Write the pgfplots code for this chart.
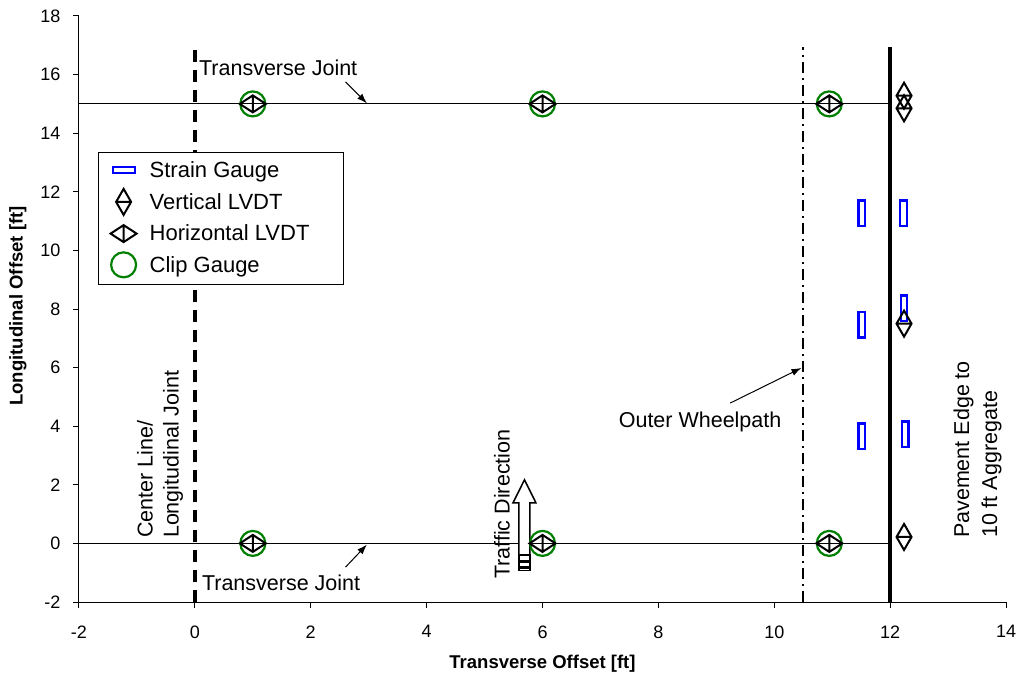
\documentclass[border=0pt]{standalone}
\usepackage{pgfplots}
\pgfplotsset{compat=1.18}
\usepackage{fontspec}
\setmainfont{Liberation Sans}
\usetikzlibrary{arrows.meta}

\definecolor{sgblue}{RGB}{0,0,255}
\definecolor{cggreen}{RGB}{0,128,0}

\pgfdeclareplotmark{vlvdt}{%
  \pgfpathmoveto{\pgfqpoint{0pt}{13pt}}%
  \pgfpathlineto{\pgfqpoint{7.5pt}{0pt}}%
  \pgfpathlineto{\pgfqpoint{0pt}{-13pt}}%
  \pgfpathlineto{\pgfqpoint{-7.5pt}{0pt}}%
  \pgfpathclose
  \pgfpathmoveto{\pgfqpoint{-7.5pt}{0pt}}%
  \pgfpathlineto{\pgfqpoint{7.5pt}{0pt}}%
  \pgfusepathqstroke}
\pgfdeclareplotmark{hlvdt}{%
  \pgfpathmoveto{\pgfqpoint{13pt}{0pt}}%
  \pgfpathlineto{\pgfqpoint{0pt}{8.5pt}}%
  \pgfpathlineto{\pgfqpoint{-13pt}{0pt}}%
  \pgfpathlineto{\pgfqpoint{0pt}{-8.5pt}}%
  \pgfpathclose
  \pgfpathmoveto{\pgfqpoint{0pt}{-8.5pt}}%
  \pgfpathlineto{\pgfqpoint{0pt}{8.5pt}}%
  \pgfusepathqstroke}
\pgfdeclareplotmark{sgauge}{%
  \pgfpathrectangle{\pgfqpoint{-3.3pt}{-12.9pt}}{\pgfqpoint{6.6pt}{25.8pt}}%
  \pgfusepathqstroke}
\pgfdeclareplotmark{sgaugeh}{%
  \pgfpathrectangle{\pgfqpoint{-11pt}{-3pt}}{\pgfqpoint{22pt}{6pt}}%
  \pgfusepathqstroke}

\newcommand{\annfont}{\fontsize{21.5}{26}\selectfont}

\begin{document}
\begin{tikzpicture}
\path[use as bounding box] (-79pt,-79pt) rectangle (945pt,602pt);
\begin{axis}[
  at={(0pt,0pt)}, anchor=south west,
  scale only axis, width=927pt, height=586pt,
  xmin=-2, xmax=14, ymin=-2, ymax=18,
  xtick={-2,0,...,14}, ytick={-2,0,...,18},
  axis x line*=bottom, axis y line*=left,
  axis line style={line width=1pt},
  tick align=outside, major tick length=6pt,
  tick style={line width=1pt, black},
  /pgf/number format/assume math mode=true,
  ticklabel style={font=\fontsize{18}{20}\selectfont},
  xticklabel style={yshift=-14pt},
  yticklabel style={xshift=-9pt},
  xlabel={\textbf{Transverse Offset [ft]}},
  ylabel={\textbf{Longitudinal Offset [ft]}},
  label style={font=\fontsize{18.5}{21}\selectfont},
  xlabel style={at={(axis description cs:0.5,0)}, anchor=center, yshift=-62pt},
  ylabel style={at={(axis description cs:0,0.5)}, anchor=center, rotate=0, yshift=61pt, xshift=3pt},
  clip=false,
  legend style={at={(axis cs:-1.672,13.36)}, anchor=north west,
    draw=black, line width=1pt, font=\fontsize{22}{25}\selectfont,
    row sep=8pt, inner xsep=4pt, inner ysep=7pt, fill=white},
  legend cell align=left,
  legend image code/.code={\draw[#1] plot coordinates {(20pt,0cm)}; \path (0cm,0cm) (43pt,0cm);},
]
% reference lines
\addplot[black, line width=1pt, forget plot] coordinates {(-2,15) (12,15)};
\addplot[black, line width=1pt, forget plot] coordinates {(-2,0) (12,0)};
\addplot[black, line width=3.5pt, dash pattern=on 12pt off 8pt, forget plot] coordinates {(0,-2) (0,16.9)};
\addplot[black, line width=1.8pt, dash pattern=on 11pt off 5pt on 2pt off 5pt, forget plot] coordinates {(10.5,-2) (10.5,16.95)};
\addplot[black, line width=4pt, forget plot] coordinates {(12,-2) (12,16.95)};

% legend images
\addlegendimage{only marks, mark=sgaugeh, sgblue, line width=2.2pt}
\addlegendentry{Strain Gauge}
\addlegendimage{only marks, mark=vlvdt, black, line width=2pt}
\addlegendentry{Vertical LVDT}
\addlegendimage{only marks, mark=hlvdt, black, line width=2pt}
\addlegendentry{\makebox[188pt][l]{Horizontal LVDT}}
\addlegendimage{only marks, mark=o, mark size=12.5pt, cggreen, line width=2.2pt}
\addlegendentry{Clip Gauge}

% Clip gauges
\addplot[only marks, mark=o, mark size=12.5pt, cggreen, line width=2.2pt, forget plot] coordinates {
(1,15) (6,15) (10.95,15) (1,0) (6,0) (10.95,0)};
% Horizontal LVDT
\addplot[only marks, mark=hlvdt, black, line width=2pt, forget plot] coordinates {
(1,15) (6,15) (10.95,15) (1,0) (6,0) (10.95,0)};
% Strain gauges
\addplot[only marks, mark=sgauge, sgblue, line width=2.2pt, forget plot] coordinates {
(11.51,11.26) (11.51,7.47) (11.51,3.65) (12.23,11.26) (12.24,8.02) (12.26,3.72)};
% Vertical LVDT
\addplot[only marks, mark=vlvdt, black, line width=2pt, forget plot] coordinates {
(12.24,15.28) (12.24,14.85) (12.24,7.5) (12.24,0.22)};

% Traffic direction block arrow
\draw[line width=1.5pt, fill=white] (axis cs:5.594,-0.40) -- (axis cs:5.594,1.38) -- (axis cs:5.49,1.38) -- (axis cs:5.689,2.17) -- (axis cs:5.888,1.38) -- (axis cs:5.784,1.38) -- (axis cs:5.784,-0.40) -- cycle;
\draw[line width=1.5pt, fill=white] (axis cs:5.594,-0.40) rectangle (axis cs:5.784,-0.60);
\draw[line width=1.5pt, fill=white] (axis cs:5.594,-0.66) rectangle (axis cs:5.784,-0.80);
\draw[line width=1.5pt, fill=white] (axis cs:5.594,-0.85) rectangle (axis cs:5.784,-0.93);

% annotations
\node[anchor=west, inner sep=0pt, font=\annfont] at (axis cs:0.07,16.22) {Transverse Joint};
\draw[-{Latex[length=10pt,width=7pt]}, line width=1pt] (axis cs:2.6,15.75) -- (axis cs:2.97,15.02);
\node[anchor=west, inner sep=0pt, font=\annfont] at (axis cs:0.12,-1.35) {Transverse Joint};
\draw[-{Latex[length=10pt,width=7pt]}, line width=1pt] (axis cs:2.6,-0.81) -- (axis cs:2.97,-0.04);
\node[anchor=center, inner sep=0pt, font=\annfont] at (axis cs:8.72,4.14) {Outer Wheelpath};
\draw[-{Latex[length=10pt,width=7pt]}, line width=1pt] (axis cs:9.24,4.79) -- (axis cs:10.47,5.99);
\node[rotate=90, anchor=center, inner sep=0pt, font=\annfont] at (axis cs:5.3,1.34) {Traffic Direction};
\node[rotate=90, anchor=west, align=left, inner sep=0pt, font=\annfont] at (axis cs:-0.6,0.18) {Center Line/\\Longitudinal Joint};
\node[rotate=90, anchor=west, align=left, inner sep=0pt, font=\fontsize{21.5}{28}\selectfont] at (axis cs:13.51,0.18) {Pavement Edge to\\10 ft Aggregate};
\end{axis}
\end{tikzpicture}
\end{document}
